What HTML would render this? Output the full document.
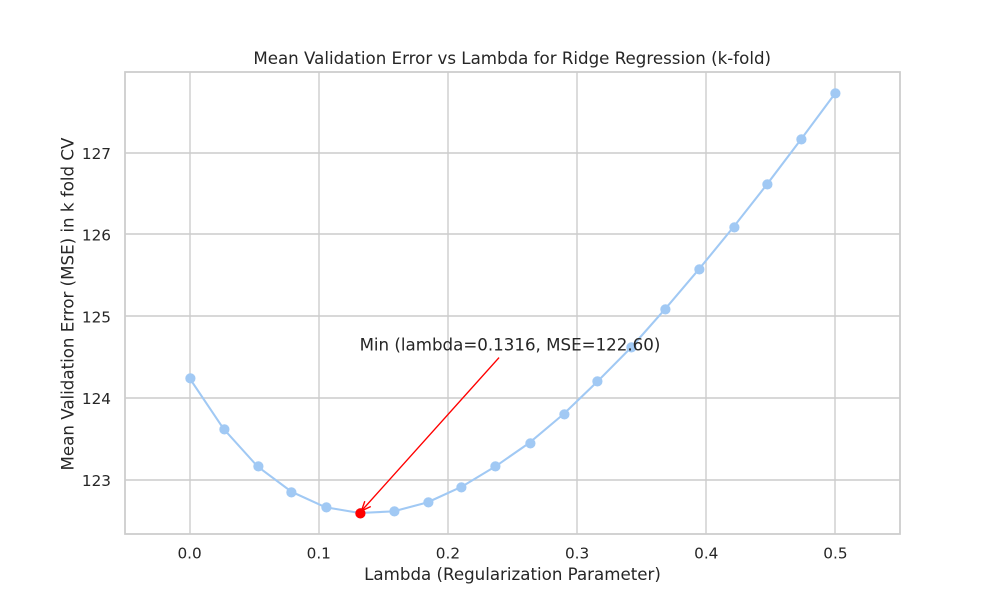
<!DOCTYPE html>
<html>
<head>
<meta charset="utf-8">
<title>Mean Validation Error vs Lambda</title>
<style>
  html, body { margin: 0; padding: 0; background: #ffffff; }
  svg { display: block; }
  text { font-family: "DejaVu Sans", "Liberation Sans", sans-serif; fill: #262626; }
</style>
</head>
<body>
<svg id="chart" width="1000" height="600" viewBox="0 0 1000 600" xmlns="http://www.w3.org/2000/svg">
  <rect x="0" y="0" width="1000" height="600" fill="#ffffff"/>
  <g id="grid"></g>
  <g id="series"></g>
  <rect x="125" y="72" width="775" height="462" fill="none" stroke="#cccccc" stroke-width="1.74"/>
  <g id="ticks"></g>
  <g id="annotation"></g>
  <text x="512.2" y="64" text-anchor="middle" font-size="16.67">Mean Validation Error vs Lambda for Ridge Regression (k-fold)</text>
  <text x="512.5" y="580" text-anchor="middle" font-size="16.67">Lambda (Regularization Parameter)</text>
  <text transform="translate(73.5 304) rotate(-90)" text-anchor="middle" font-size="16.67">Mean Validation Error (MSE) in k fold CV</text>
</svg>
<script>
const lambdas = [0, 0.0263, 0.0526, 0.0789, 0.1053, 0.1316, 0.1579, 0.1842, 0.2105, 0.2368, 0.2632, 0.2895, 0.3158, 0.3421, 0.3684, 0.3947, 0.4211, 0.4474, 0.4737, 0.5];
const meanErrors = [124.25, 123.63, 123.17, 122.86, 122.67, 122.60, 122.62, 122.73, 122.92, 123.17, 123.46, 123.81, 124.21, 124.63, 125.10, 125.59, 126.10, 126.63, 127.18, 127.74];
const xTickValues = [0, 0.1, 0.2, 0.3, 0.4, 0.5];
const xTickLabels = ['0.0', '0.1', '0.2', '0.3', '0.4', '0.5'];
const yTickValues = [123, 124, 125, 126, 127];
const yTickLabels = ['123', '124', '125', '126', '127'];
const minLambda = 0.1316;
const minError = 122.60;
const annotationLabel = 'Min (lambda=0.1316, MSE=122.60)';
const annotationTextLambda = 0.1316;
const annotationTextError = 124.6;

const NS = 'http://www.w3.org/2000/svg';
const plotLeft = 125, plotRight = 900, plotTop = 72, plotBottom = 534;

const xLo = Math.min(...lambdas), xHi = Math.max(...lambdas);
const yLo = Math.min(...meanErrors), yHi = Math.max(...meanErrors);
const xPad = (xHi - xLo) * 0.1;
const yPad = (yHi - yLo) * 0.05;

function xScale(v) {
  return plotLeft + (v - (xLo - xPad)) / ((xHi + xPad) - (xLo - xPad)) * (plotRight - plotLeft);
}
function yScale(v) {
  return plotBottom - (v - (yLo - yPad)) / ((yHi + yPad) - (yLo - yPad)) * (plotBottom - plotTop);
}
function make(tag, attrs, parent) {
  const el = document.createElementNS(NS, tag);
  for (const k in attrs) el.setAttribute(k, attrs[k]);
  parent.appendChild(el);
  return el;
}

const gridGroup = document.getElementById('grid');
const tickGroup = document.getElementById('ticks');
const seriesGroup = document.getElementById('series');
const annotationGroup = document.getElementById('annotation');

xTickValues.forEach(function (v, i) {
  const x = Math.round(xScale(v));
  const line = make('line', { x1: x, x2: x, y1: plotTop, y2: plotBottom, stroke: '#cccccc', 'stroke-width': 1.39 }, gridGroup);
  
  
  const label = make('text', { x: xScale(v), y: 558.5, 'text-anchor': 'middle', 'font-size': 15.28 }, tickGroup);
  label.textContent = xTickLabels[i];
  
  
});

yTickValues.forEach(function (v, i) {
  const y = Math.floor(yScale(v) - 0.3);
  const line = make('line', { x1: plotLeft, x2: plotRight, y1: y, y2: y, stroke: '#cccccc', 'stroke-width': 1.39 }, gridGroup);
  
  
  const label = make('text', { x: 111, y: yScale(v) + 5.5, 'text-anchor': 'end', 'font-size': 15.28 }, tickGroup);
  label.textContent = yTickLabels[i];
  
  
});

const linePoints = lambdas.map(function (v, i) {
  return xScale(v).toFixed(2) + ',' + yScale(meanErrors[i]).toFixed(2);
}).join(' ');
const errorLine = make('polyline', { points: linePoints, fill: 'none', stroke: '#a1c9f4', 'stroke-width': 2.08, 'stroke-linejoin': 'round' }, seriesGroup);



lambdas.forEach(function (v, i) {
  const dot = make('circle', { cx: Math.round(xScale(v)) + 0.4, cy: Math.round(yScale(meanErrors[i])) + 0.4, r: 5.1, fill: '#a1c9f4' }, seriesGroup);
  
  
});

const tipX = xScale(minLambda), tipY = yScale(minError);
const minDot = make('circle', { cx: Math.round(tipX) + 0.4, cy: Math.round(tipY) + 0.4, r: 5.1, fill: '#ff0000' }, annotationGroup);



const textX = xScale(annotationTextLambda), textY = yScale(annotationTextError);
const noteText = make('text', { x: textX, y: textY + 0.7, 'font-size': 16.67 }, annotationGroup);
noteText.textContent = annotationLabel;



const startX = textX + 139.5, startY = textY + 8;
const dx = startX - tipX, dy = startY - tipY;
const len = Math.sqrt(dx * dx + dy * dy);
const ux = dx / len, uy = dy / len;
const endX = tipX + ux * 2.8, endY = tipY + uy * 2.8;
const arrowShaft = make('line', { x1: startX, y1: startY, x2: endX, y2: endY, stroke: '#ff0000', 'stroke-width': 1.39 }, annotationGroup);



const headLen = 9.5, headWidth = 4;
const hx1 = endX + ux * headLen - uy * headWidth, hy1 = endY + uy * headLen + ux * headWidth;
const hx2 = endX + ux * headLen + uy * headWidth, hy2 = endY + uy * headLen - ux * headWidth;
const arrowHead = make('polyline', { points: hx1 + ',' + hy1 + ' ' + endX + ',' + endY + ' ' + hx2 + ',' + hy2, fill: 'none', stroke: '#ff0000', 'stroke-width': 1.39 }, annotationGroup);


</script>
</body>
</html>
